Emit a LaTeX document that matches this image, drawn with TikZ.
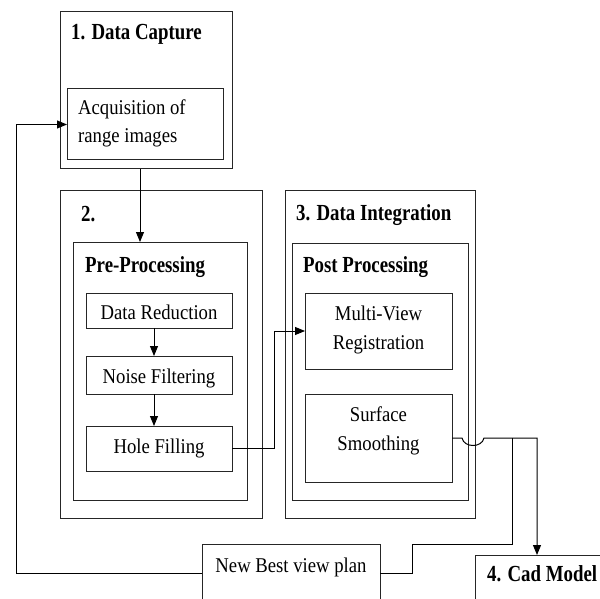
\documentclass[tikz,border=0pt]{standalone}
\usepackage{fontspec}
\setmainfont{Liberation Serif}[FakeStretch=0.89, BoldFeatures={FakeStretch=0.82}]
\usetikzlibrary{arrows.meta}
\tikzset{
  box/.style={draw=black!85, line width=1pt, rectangle, inner sep=0pt, outer sep=0pt},
  lbl/.style={inner sep=0pt, font=\fontsize{21}{24}\selectfont},
  ttl/.style={inner sep=0pt, font=\fontsize{23}{26}\selectfont\bfseries},
  conn/.style={draw=black, line width=1pt},
  arr/.style={conn, -{Triangle[length=10pt,width=8pt]}}
}
\begin{document}
\begin{tikzpicture}[x=1pt,y=-1pt]
\useasboundingbox (0,0) rectangle (600,599);
\clip (0,0) rectangle (600,599);
% boxes
\node[box, minimum width=172pt, minimum height=157pt] (dc) at (146,90.5) {};
\node[box, minimum width=156pt, minimum height=71pt] (acq) at (145,124.5) {};
\node[box, minimum width=202pt, minimum height=327pt] (b2) at (161,354.5) {};
\node[box, minimum width=174pt, minimum height=258pt] (pre) at (160,371) {};
\node[box, minimum width=146pt, minimum height=35pt] (dr) at (159,310.5) {};
\node[box, minimum width=146pt, minimum height=38pt] (nf) at (159,375) {};
\node[box, minimum width=146pt, minimum height=45pt] (hf) at (159,448.5) {};
\node[box, minimum width=190pt, minimum height=327pt] (b3) at (380,354.5) {};
\node[box, minimum width=176pt, minimum height=257pt] (post) at (380,371.5) {};
\node[box, minimum width=147pt, minimum height=76pt] (mv) at (378.5,331) {};
\node[box, minimum width=147pt, minimum height=88pt] (ss) at (378.5,438) {};
\node[box, minimum width=178pt, minimum height=76pt] (nb) at (291,582) {};
\node[box, minimum width=145pt, minimum height=65pt] (cad) at (547.5,587.5) {};
% texts
\node[ttl, anchor=base west] (t1) at (71,40) {1. Data Capture};
\node[lbl, anchor=base west] (tacq1) at (78,115) {Acquisition of};
\node[lbl, anchor=base west] (tacq2) at (78,143) {range images};
\node[ttl, anchor=base west] (t2) at (81,221) {2.};
\node[ttl, anchor=base west] (tpre) at (85,272) {Pre-Processing};
\node[lbl, anchor=base] (tdr) at (159,319) {Data Reduction};
\node[lbl, anchor=base] (tnf) at (159,383) {Noise Filtering};
\node[lbl, anchor=base] (thf) at (159,453) {Hole Filling};
\node[ttl, anchor=base west] (t3) at (296,220) {3. Data Integration};
\node[ttl, anchor=base west] (tpost) at (303,272) {Post Processing};
\node[lbl, anchor=base] (tmv1) at (378.5,320) {Multi-View};
\node[lbl, anchor=base] (tmv2) at (378.5,349) {Registration};
\node[lbl, anchor=base] (tss1) at (378.5,421) {Surface};
\node[lbl, anchor=base] (tss2) at (378.5,450) {Smoothing};
\node[lbl, anchor=base] (tnb) at (291,572) {New Best view plan};
\node[ttl, anchor=base west] (tcad) at (487,581) {4. Cad Model};
% helper coordinates
\coordinate (kx) at (140,0);
\coordinate (ax) at (154,0);
\coordinate (hx) at (274,0);
\coordinate (j1) at (462,438);
\coordinate (j2) at (484,438);
\coordinate (j3) at (512,438);
\coordinate (j4) at (537,438);
\coordinate (s1) at (512,544);
\coordinate (s2) at (412,544);
\coordinate (s3) at (412,573);
\coordinate (fy) at (0,573);
\coordinate (f1) at (16,573);
\coordinate (f2) at (16,124.5);
% connectors
\draw[arr] (dc.south -| kx) -- (pre.north -| kx);
\draw[arr] (dr.south -| ax) -- (nf.north -| ax);
\draw[arr] (nf.south -| ax) -- (hf.north -| ax);
\draw[arr] (hf.east) -- (hf.east -| hx) -- (mv.west -| hx) -- (mv.west);
\draw[arr] (ss.east) -- (j1) .. controls (464,448) and (482,448) .. (j2) -- (j4) -- (cad.north -| j4);
\draw[conn] (j3) -- (s1) -- (s2) -- (s3) -- (nb.east |- fy);
\draw[arr] (nb.west |- fy) -- (f1) -- (f2) -- (acq.west);
\end{tikzpicture}
\end{document}
